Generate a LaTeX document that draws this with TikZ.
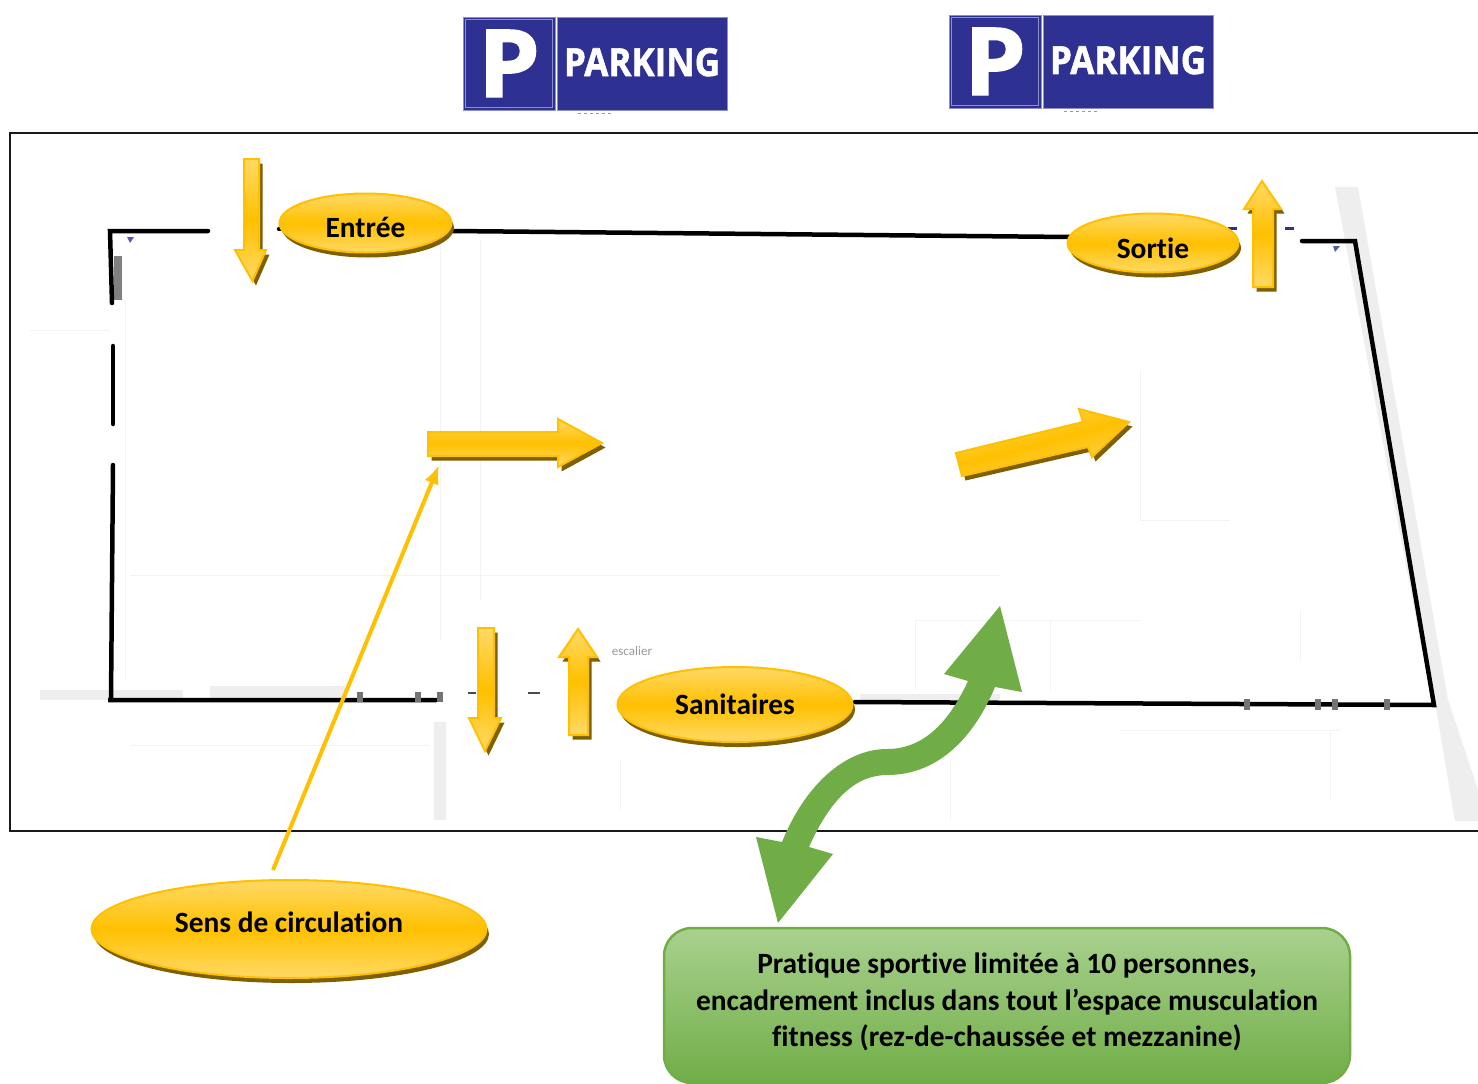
\documentclass[tikz,border=0pt]{standalone}
\usepackage{fontspec}
\usepackage{graphicx}
\setmainfont[Ligatures=NoCommon]{Carlito}
\newfontfamily\signfont[BoldFeatures={FakeBold=1.5}]{Open Sans}
\usetikzlibrary{shapes.geometric,shadows,arrows.meta}
\definecolor{gold}{HTML}{FFC000}
\definecolor{goldlight}{HTML}{FFD966}
\definecolor{goldshadow}{HTML}{7F6000}
\definecolor{signblue}{HTML}{2E3192}
\definecolor{signedge}{HTML}{8C8FC8}
\definecolor{sportgreen}{HTML}{70AD47}
\definecolor{greenlight}{HTML}{A9D18E}
\definecolor{planfaint}{HTML}{F3F3F3}
\definecolor{planhatch}{HTML}{EEEEEE}
\tikzset{
  frameline/.style={line width=2pt,draw=black!90},
  wall/.style={line width=4.5pt,draw=black,line cap=round,line join=miter},
  faint/.style={line width=1pt,draw=planfaint},
  hatchband/.style={fill=planhatch,draw=none},
  tick/.style={fill=black!55,draw=none},
  goldshade/.style={top color=goldlight,bottom color=goldlight,middle color=gold,draw=gold,line width=2pt,line join=miter},
  goldarrow/.style={goldshade,general shadow={fill=goldshadow,shadow xshift=3.5pt,shadow yshift=-4.5pt}},
  oval/.style={ellipse,goldshade,inner sep=0pt,font=\fontsize{29.4}{32}\bfseries\selectfont,
    general shadow={fill=goldshadow,shadow xshift=2.5pt,shadow yshift=-5pt}},
  pointer/.style={line width=4pt,draw=gold,-{Latex[length=19pt,width=15pt]}},
  signsq/.style={fill=signblue,draw=signedge,line width=1pt,text=white,inner sep=0pt,font=\signfont\bfseries},
  sportbox/.style={rectangle,rounded corners=28pt,top color=greenlight,bottom color=sportgreen,draw=sportgreen,line width=2.5pt,inner sep=0pt,align=center,font=\fontsize{29.4}{36.5}\bfseries\selectfont},
  sportarrow/.style={fill=sportgreen,draw=none},
}
\begin{document}
\begin{tikzpicture}[x=1pt,y=-1pt]
\useasboundingbox (0,0) rectangle (1478,1084);
\fill[white] (0,0) rectangle (1478,1084);
% parking signs
\node[signsq,minimum width=92pt,minimum height=93pt] (pa) at (509,63.5) {\raisebox{-33.5pt}[0pt][0pt]{\resizebox{62pt}{67pt}{P}}};
\node[signsq,minimum width=170pt,minimum height=93pt] (pb) at (642,63.5) {\raisebox{-12.5pt}[0pt][0pt]{\resizebox{156pt}{28pt}{PARKING}}};
\draw[signedge,line width=.7pt] ([shift={(3,3)}]pa.north west) rectangle ([shift={(-3,-3)}]pa.south east);
\node[signsq,minimum width=92pt,minimum height=93pt] (pc) at (995,61.5) {\raisebox{-33.5pt}[0pt][0pt]{\resizebox{62pt}{67pt}{P}}};
\node[signsq,minimum width=170pt,minimum height=93pt] (pd) at (1128,61.5) {\raisebox{-12.5pt}[0pt][0pt]{\resizebox{156pt}{28pt}{PARKING}}};
\draw[signedge,line width=.7pt] ([shift={(3,3)}]pc.north west) rectangle ([shift={(-3,-3)}]pc.south east);
\draw[black!40,line width=1pt,dash pattern=on 3pt off 3pt] (578,113) -- (612,113);
\draw[black!40,line width=1pt,dash pattern=on 3pt off 3pt] (1064,111) -- (1098,111);
% frame
\draw[frameline] (1478,133) -- (10,133) -- (10,831) -- (1478,831);
% faint plan
\fill[hatchband] (1335,187) -- (1358,187) -- (1448,700) -- (1478,790) -- (1478,821) -- (1455,821) -- (1436,708) -- (1420,640) -- cycle;
\fill[hatchband] (40,690) -- (183,690) -- (183,700) -- (40,700) -- cycle;
\fill[hatchband] (210,686) -- (345,686) -- (345,700) -- (210,700) -- cycle;
\fill[hatchband] (434,722) -- (446,722) -- (446,820) -- (434,820) -- cycle;
\fill[hatchband] (860,694) -- (1000,694) -- (1000,700) -- (860,700) -- cycle;
\fill[black!50] (114,256) rectangle (122,300);
\foreach \a/\b/\c/\d in {125/300/125/680, 440/240/440/640, 130/575/1000/575, 915/620/1140/620, 915/620/915/690, 1050/620/1050/690, 1140/370/1140/520, 1140/520/1230/520, 30/330/110/330, 130/745/430/745, 620/760/620/810, 950/760/950/820, 1120/730/1340/730, 1300/610/1300/660, 1330/730/1330/800, 480/240/480/600}
  \draw[faint] (\a,\b) -- (\c,\d);
\node[text=black!40,inner sep=0pt,font=\fontsize{13}{14}\selectfont] (esc) at (632,651) {escalier};
% walls
\draw[wall] (208,231) -- (110,231) -- (112,303);
\draw[wall] (113,346) -- (113,424);
\draw[wall] (113,465) -- (111,700) -- (108,700) -- (436,700);
\draw[wall] (279,229) -- (285,229);
\draw[wall] (452,231) -- (1070,237);
\draw[wall] (1302,241) -- (1355,241) -- (1434,705) -- (855,702);
\foreach \p in {360,418,440}\fill[tick] (\p-3,692) rectangle (\p+3,702);
\foreach \p in {1247,1318,1335,1387}\fill[tick] (\p-3,699) rectangle (\p+3,710);
\fill[black!70] (468,692) rectangle (476,694);
\fill[black!70] (528,692) rectangle (540,694);
\fill[signblue] (1228,227) rectangle (1237,230);
\fill[signblue] (1285,227) rectangle (1294,230);
\fill[signblue!80] (127,237) -- (134,237) -- (130,243) -- cycle;
\fill[signblue!80] (1333,246) -- (1340,246) -- (1335,252) -- cycle;
% gold arrows
\path[goldarrow] (244,159) -- (259,159) -- (259,250) -- (266,250) -- (252.5,281) -- (235,250) -- (244,250) -- cycle;
\path[goldarrow] (428,432) -- (558,432) -- (558,419) -- (602,443) -- (558,467) -- (558,456) -- (428,456) -- cycle;
\path[goldarrow] (478,628) -- (494,628) -- (494,718) -- (501,718) -- (485,751) -- (469,718) -- (478,718) -- cycle;
\path[goldarrow] (578,629) -- (597,657) -- (588,657) -- (588,735) -- (569,735) -- (569,657) -- (559,657) -- cycle;
\path[goldarrow] (1262,181) -- (1281,209) -- (1273,209) -- (1273,287) -- (1253,287) -- (1253,209) -- (1244,209) -- cycle;
\path[goldarrow,shading angle=15] (956,453) -- (1083,422) -- (1079,409) -- (1129,422) -- (1092,457) -- (1088,447) -- (962,476) -- cycle;
% ovals
\node[oval,minimum width=172pt,minimum height=59pt] (entree) at (365.5,223) {\raisebox{-14pt}[0pt][0pt]{Entrée}};
\node[oval,minimum width=171pt,minimum height=59pt] (sortie) at (1153,243) {\raisebox{-15pt}[0pt][0pt]{Sortie}};
\node[oval,minimum width=235pt,minimum height=75pt] (sanitaires) at (735,704.5) {\raisebox{-9.5pt}[0pt][0pt]{Sanitaires}};
\node[oval,minimum width=395pt,minimum height=98pt] (sens) at (289,929) {\raisebox{-3pt}[0pt][0pt]{Sens de circulation}};
% pointer
\coordinate (sensend) at (273,870);
\coordinate (arrowend) at (439,465);
\draw[pointer] (sensend) -- (arrowend);
% green arrow
\path[sportarrow] (1000,606) -- (1022,692) -- (995,687)
  .. controls (975,735) and (940,775) .. (887,775)
  .. controls (855,775) and (830,800) .. (809,847)
  -- (833,854) -- (778,923) -- (756,837) -- (782,842)
  .. controls (805,785) and (845,749) .. (887,749)
  .. controls (925,749) and (950,720) .. (968,681)
  -- (944,674) -- cycle;
% green box
\node[sportbox,minimum width=686pt,minimum height=155pt] (sport) at (1007,1005.5) {\raisebox{-3.5pt}[0pt][0pt]{\begin{tabular}{@{}c@{}}Pratique sportive limitée à 10 personnes,\\encadrement inclus dans tout l’espace musculation\\fitness (rez-de-chaussée et mezzanine)\end{tabular}}};
\end{tikzpicture}
\end{document}
